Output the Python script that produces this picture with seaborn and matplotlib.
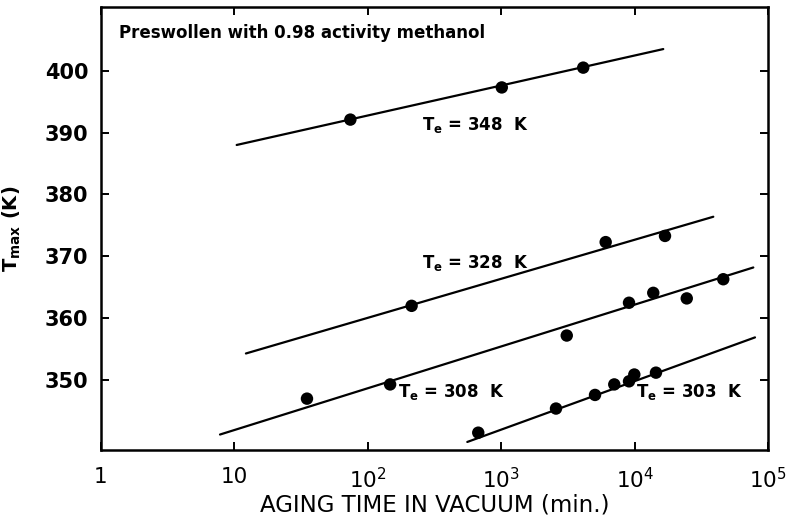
import matplotlib
matplotlib.use("Agg")
import matplotlib.pyplot as plt
import seaborn as sns
import pandas as pd

# ---- data ----
t_348 = [74, 1010, 4120]
T_348 = [392.1, 397.3, 400.5]
t_328 = [213, 6070, 16900]
T_328 = [362.0, 372.3, 373.3]
t_308 = [35, 147, 3100, 9080, 13800, 24600, 46200]
T_308 = [347.0, 349.3, 357.2, 362.5, 364.1, 363.2, 366.3]
t_303 = [673, 2575, 5050, 7040, 9080, 9950, 14460]
T_303 = [341.5, 345.4, 347.6, 349.3, 349.8, 350.9, 351.2]

fit_348_t = [10.4, 16400]
fit_348_T = [388.0, 403.5]
fit_328_t = [12.2, 38900]
fit_328_T = [354.3, 376.4]
fit_308_t = [7.8, 77600]
fit_308_T = [341.2, 368.2]
fit_303_t = [557, 79900]
fit_303_T = [340.0, 356.9]

series_names = ["348", "328", "308", "303"]
label_t = [256, 257, 168, 10240]
label_T = [391.3, 369.0, 348.0, 348.0]

x_ticks = [1, 10, 100, 1000, 10000, 100000]
x_tick_labels = ["1", "10", r"$\mathregular{10^2}$", r"$\mathregular{10^3}$",
                 r"$\mathregular{10^4}$", r"$\mathregular{10^5}$"]
y_ticks = [350, 360, 370, 380, 390, 400]

# ---- tables ----
pts = pd.DataFrame({
    "t": t_348 + t_328 + t_308 + t_303,
    "T": T_348 + T_328 + T_308 + T_303,
    "series": ["348"] * len(t_348) + ["328"] * len(t_328)
              + ["308"] * len(t_308) + ["303"] * len(t_303),
})
fits = pd.DataFrame({
    "t": fit_348_t + fit_328_t + fit_308_t + fit_303_t,
    "T": fit_348_T + fit_328_T + fit_308_T + fit_303_T,
    "series": ["348"] * 2 + ["328"] * 2 + ["308"] * 2 + ["303"] * 2,
})

sns.set_theme(style="ticks")
plt.rcParams["font.family"] = ["DejaVu Sans"]
plt.rcParams["mathtext.fontset"] = "dejavusans"
for key in ["text.color", "axes.labelcolor", "xtick.color", "ytick.color",
            "axes.edgecolor"]:
    plt.rcParams[key] = "black"

fig = plt.figure(figsize=(7.87, 5.18), dpi=100)
ax = fig.add_axes([101 / 787, 68 / 518, 667 / 787, 443 / 518])

black = {s: "black" for s in series_names}
sns.lineplot(data=fits, x="t", y="T", hue="series", palette=black, sort=False,
             estimator=None, lw=1.6, legend=False, ax=ax)
sns.scatterplot(data=pts, x="t", y="T", hue="series", palette=black, s=80,
                edgecolor="black", linewidth=0, legend=False, ax=ax, zorder=3)

ax.set_xscale("log")
ax.set_xlim(1, 1e5)
ax.set_ylim(338.7, 410.3)
ax.set_xticks(x_ticks, x_tick_labels)
ax.set_yticks(y_ticks)
ax.minorticks_off()
ax.tick_params(axis="both", which="major", direction="in", length=6, width=1.4,
               top=True, right=True)
ax.tick_params(axis="x", labelsize=15.5, pad=12)
ax.tick_params(axis="y", labelsize=15, pad=9)
for lbl in ax.get_yticklabels():
    lbl.set_fontweight("bold")
for sp in ax.spines.values():
    sp.set_linewidth(1.8)
    sp.set_color("black")

ax.set_xlabel("AGING TIME IN VACUUM (min.)", fontsize=16.5, va="top")
ax.xaxis.set_label_coords(0.5, -(494 - 450) / 443)
ax.set_ylabel(r"$\mathbf{T_{max}}$ (K)", fontsize=14, fontweight="bold")
ax.yaxis.set_label_coords(-0.117, 0.5)

ax.text(0.027, 0.941, "Preswollen with 0.98 activity methanol", transform=ax.transAxes,
        fontsize=12, fontweight="bold", ha="left", va="center")

for name, lt, lT in zip(series_names, label_t, label_T):
    ax.text(lt, lT, r"$\mathbf{T_e}$ = " + name + "  K", fontsize=12, fontweight="bold",
            ha="left", va="center")

fig.savefig("out.png", dpi=100)
